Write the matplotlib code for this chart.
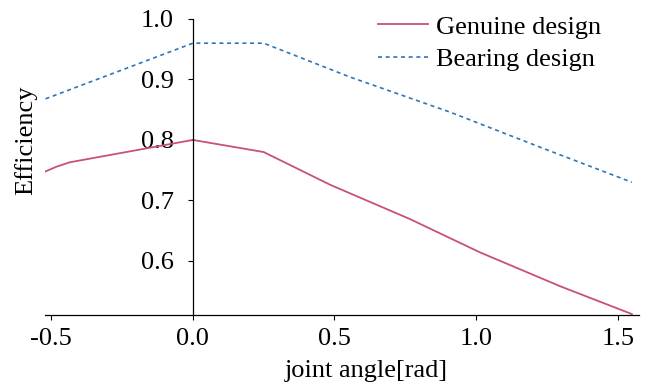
import matplotlib
matplotlib.use("Agg")
import matplotlib.pyplot as plt

# joint angle [rad] and efficiency
genuine_x = [-0.52, -0.48, -0.435, 0.0, 0.25, 0.484, 0.767, 1.014, 1.297, 1.55]
genuine_y = [0.748, 0.756, 0.763, 0.800, 0.780, 0.726, 0.669, 0.614, 0.558, 0.512]

bearing_x = [-0.52, 0.0, 0.25, 0.555, 0.908, 1.226, 1.55]
bearing_y = [0.868, 0.960, 0.960, 0.904, 0.846, 0.788, 0.730]

x_ticks = [-0.5, 0.0, 0.5, 1.0, 1.5]
y_ticks = [0.6, 0.7, 0.8, 0.9, 1.0]

plt.rcParams["font.family"] = ["Liberation Serif", "DejaVu Serif"]
plt.rcParams["axes.unicode_minus"] = False
plt.rcParams["font.size"] = 19

fig = plt.figure(figsize=(6.5, 3.91), dpi=100)
ax = fig.add_axes([45 / 650, 1 - 315.3 / 391, 594 / 650, 296.3 / 391])

ax.plot(genuine_x, genuine_y, color="#c8507a", lw=1.3, label="Genuine design")
ax.plot(bearing_x, bearing_y, color="#2f74b5", lw=1.2, dashes=(2.4, 2.2),
        label="Bearing design")

ax.set_xlim(-0.522, 1.575)
ax.set_ylim(0.51, 1.0)
ax.set_xticks(x_ticks)
ax.set_xticklabels([f"{v:.1f}" for v in x_ticks])
ax.set_yticks(y_ticks)
ax.set_yticklabels([f"{v:.1f}" for v in y_ticks])

ax.spines["top"].set_visible(False)
ax.spines["right"].set_visible(False)
ax.spines["left"].set_position(("data", 0))
for s in ("left", "bottom"):
    ax.spines[s].set_linewidth(0.9)
ax.tick_params(axis="both", direction="out", length=3.5, width=0.8, labelsize=19)
ax.tick_params(axis="y", pad=10)
ax.tick_params(axis="x", pad=6)

ax.set_xlabel("joint angle[rad]", fontsize=19)
ax.xaxis.set_label_coords(0.541, -0.152)
ax.set_ylabel("Efficiency", fontsize=19)
ax.yaxis.set_label_coords(-0.0135, 0.59)

ax.legend(loc="upper left", bbox_to_anchor=(365 / 650, 1 - 2 / 391),
          bbox_transform=fig.transFigure, frameon=False, borderpad=0,
          handlelength=1.9, handletextpad=0.3, labelspacing=0.35, fontsize=19)

fig.savefig("out.png", dpi=100)
